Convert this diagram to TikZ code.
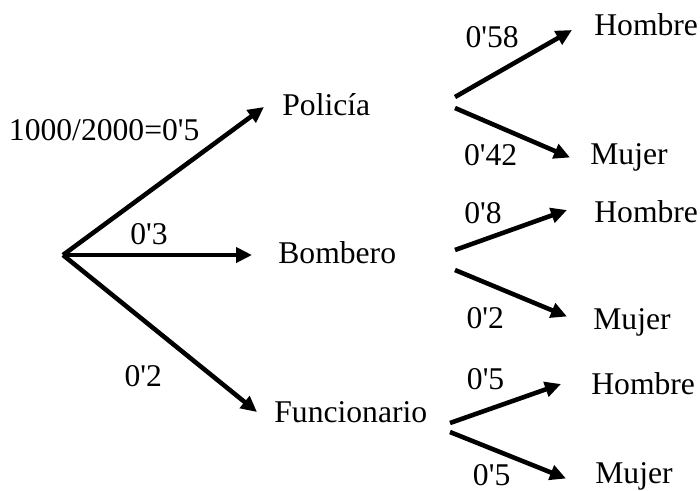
\documentclass[tikz,border=0pt]{standalone}
\usepackage{fontspec}
\setmainfont{Liberation Serif}
\usepackage{tikz}
\usetikzlibrary{arrows.meta,positioning}
\newcommand{\apo}{\textquotesingle}

\begin{document}
\begin{tikzpicture}[font=\fontsize{18}{21}\selectfont,
    arr/.style={line width=2.6pt, -{Triangle[length=0.32cm,width=0.3cm]}},
    item/.style={inner sep=0pt},
    prob/.style={inner sep=0.2cm}]
    \useasboundingbox (-1.26,5.10) rectangle (12.74,-4.70);
    \coordinate (o) at (0,0);
    \node[item, right=4.38cm of o, yshift=3cm] (pol) {Policía};
    \node[item, right=4.3cm of o, yshift=0.04cm] (bom) {Bombero};
    \node[item, right=4.22cm of o, yshift=-3.14cm] (fun) {Funcionario};

    \coordinate[right=3.46cm of pol.west] (polF);
    \coordinate[right=3.54cm of bom.west] (bomF);
    \coordinate[right=3.52cm of fun.west] (funF);

    \node[item, right=2.78cm of polF, yshift=1.6cm] (h1) {Hombre};
    \node[item, right=2.7cm of polF, yshift=-1.05cm] (m1) {Mujer};
    \node[item, right=2.78cm of bomF, yshift=0.82cm] (h2) {Hombre};
    \node[item, right=2.76cm of bomF, yshift=-1.39cm] (m2) {Mujer};
    \node[item, right=2.82cm of funF, yshift=0.56cm] (h3) {Hombre};
    \node[item, right=2.9cm of funF, yshift=-1.29cm] (m3) {Mujer};

    % primer nivel
    \draw[arr] (o) -- node[prob, pos=0.74, anchor=south east, yshift=-0.16cm] {1000/2000=0\apo5} ([xshift=-0.36cm, yshift=-0.04cm]pol.west);
    \draw[arr] (o) -- node[prob, pos=0.455, above, yshift=-0.04cm] {0\apo3} ([xshift=-0.52cm, yshift=-0.04cm]bom.west);
    \draw[arr] (o) -- node[prob, pos=0.56, anchor=north east, xshift=0.05cm, yshift=-0.2cm] {0\apo2} ([xshift=-0.34cm]fun.west);

    % segundo nivel
    \draw[arr] ([yshift=0.16cm]polF) -- node[prob, pos=0.65, anchor=south east, yshift=-0.13cm] {0\apo58} ([xshift=-0.44cm, yshift=-0.1cm]h1.west);
    \draw[arr] ([yshift=-0.06cm]polF) -- node[prob, pos=0.63, anchor=north east, xshift=0.04cm, yshift=0.14cm] {0\apo42} ([xshift=-0.4cm]m1.west);
    \draw[arr] ([yshift=0.06cm]bomF) -- node[prob, pos=0.5, anchor=south east, xshift=0.06cm, yshift=-0.12cm] {0\apo8} ([xshift=-0.54cm, yshift=0.04cm]h2.west);
    \draw[arr] ([yshift=-0.34cm]bomF) -- node[prob, pos=0.52, anchor=north east, xshift=0.06cm, yshift=-0.02cm] {0\apo2} ([xshift=-0.52cm, yshift=0.12cm]m2.west);
    \draw[arr] ([yshift=-0.22cm]funF) -- node[prob, pos=0.6, anchor=south east, yshift=-0.04cm] {0\apo5} ([xshift=-0.6cm]h3.west);
    \draw[arr] ([yshift=-0.4cm]funF) -- node[prob, inner sep=0.05cm, pos=0.6, anchor=north east, xshift=-0.09cm, yshift=0.01cm] {0\apo5} ([xshift=-0.58cm, yshift=-0.04cm]m3.west);
\end{tikzpicture}
\end{document}
